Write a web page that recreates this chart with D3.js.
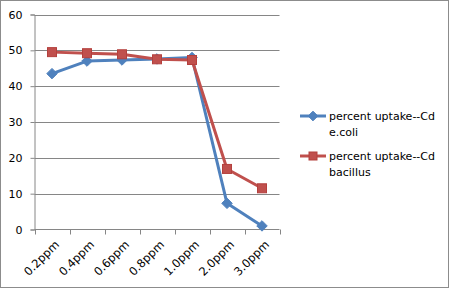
<!DOCTYPE html>
<html>
<head>
<meta charset="UTF-8">
<title></title>
<style>
  body { margin: 0; background: #fff; }
  text { font-family: "DejaVu Sans", Verdana, sans-serif; }
</style>
</head>
<body>
<div id="chart"></div>
<script src="https://d3js.org/d3.v7.min.js"></script>
<script>
// data
var categories = ["0.2ppm", "0.4ppm", "0.6ppm", "0.8ppm", "1.0ppm", "2.0ppm", "3.0ppm"];
var ecoli = [43.5, 47.0, 47.3, 47.6, 48.0, 7.3, 1.0];
var bacillus = [49.5, 49.2, 48.9, 47.5, 47.3, 16.9, 11.5];
var seriesNames = [["percent uptake--Cd", "e.coli"], ["percent uptake--Cd", "bacillus"]];
var yTicks = [0, 10, 20, 30, 40, 50, 60];

var width = 451, height = 289;
var plot = { left: 34.5, right: 279.5, top: 14.5, bottom: 229.5 };
var colors = ["#4F81BD", "#C0504D"];

var svg = d3.select("#chart").append("svg")
  .attr("width", width).attr("height", height);

// chart border
svg.append("rect")
  .attr("x", 0.5).attr("y", 0.5)
  .attr("width", 448).attr("height", 287)
  .attr("fill", "#fff").attr("stroke", "#8c8c8c");

var x = d3.scaleBand().domain(categories).range([plot.left, plot.right]);
var y = d3.scaleLinear().domain([0, 60]).range([plot.bottom, plot.top]);

// gridlines
svg.append("g").selectAll("line")
  .data(yTicks.filter(function(d) { return d > 0; }))
  .join("line")
  .attr("x1", plot.left).attr("x2", plot.right)
  .attr("y1", function(d) { return Math.round(y(d)) + 0.5; })
  .attr("y2", function(d) { return Math.round(y(d)) + 0.5; })
  .attr("stroke", "#868686");

// y axis
var yAxis = d3.axisLeft(y).tickValues(yTicks).tickSize(4).tickPadding(8);
var gy = svg.append("g").attr("transform", "translate(" + plot.left + ",0)").call(yAxis);
gy.select(".domain").attr("stroke", "#868686");
gy.selectAll(".tick line").attr("stroke", "#868686");
gy.selectAll("text").attr("font-size", "11px").attr("fill", "#000")
  .attr("font-family", "DejaVu Sans");

// x axis
var gx = svg.append("g").attr("transform", "translate(0," + plot.bottom + ")");
gx.append("line")
  .attr("x1", plot.left).attr("x2", plot.right)
  .attr("stroke", "#868686");
var edges = categories.map(function(c) { return x(c); }).concat([plot.right]);
gx.selectAll(".tk").data(edges).join("line")
  .attr("class", "tk")
  .attr("x1", function(d) { return Math.round(d) + 0.5; })
  .attr("x2", function(d) { return Math.round(d) + 0.5; })
  .attr("y1", 0).attr("y2", 5)
  .attr("stroke", "#868686");
gx.selectAll("text").data(categories).join("text")
  .attr("transform", function(d) {
    return "translate(" + (x(d) + x.bandwidth() / 2 + 5) + ",13) rotate(-45)";
  })
  .attr("text-anchor", "end")
  .attr("dy", "0.35em")
  .attr("font-size", "11.5px")
  .text(function(d) { return d; });

// lines
var line = d3.line()
  .x(function(d, i) { return x(categories[i]) + x.bandwidth() / 2; })
  .y(function(d) { return y(d); });

[ecoli, bacillus].forEach(function(vals, s) {
  svg.append("path")
    .datum(vals)
    .attr("d", line)
    .attr("fill", "none")
    .attr("stroke", colors[s])
    .attr("stroke-width", 3)
    .attr("stroke-linejoin", "round");
});

// markers
var diamond = d3.symbol().type(d3.symbolDiamond2).size(70);
svg.append("g").selectAll("path")
  .data(ecoli).join("path")
  .attr("transform", function(d, i) {
    return "translate(" + (x(categories[i]) + x.bandwidth() / 2) + "," + y(d) + ")";
  })
  .attr("d", diamond)
  .attr("fill", colors[0]).attr("stroke", colors[0]);

svg.append("g").selectAll("rect")
  .data(bacillus).join("rect")
  .attr("x", function(d, i) { return x(categories[i]) + x.bandwidth() / 2 - 4.5; })
  .attr("y", function(d) { return y(d) - 4.5; })
  .attr("width", 9).attr("height", 9)
  .attr("fill", "#C0504D").attr("stroke", "#B4403D").attr("stroke-width", 1);

// legend
var legendY = [116, 156];
seriesNames.forEach(function(name, s) {
  var g = svg.append("g").attr("transform", "translate(300," + legendY[s] + ")");
  g.append("line").attr("x1", 0).attr("x2", 26)
    .attr("stroke", colors[s]).attr("stroke-width", 3);
  if (s === 0) {
    g.append("path").attr("transform", "translate(13,0)")
      .attr("d", d3.symbol().type(d3.symbolDiamond2).size(60))
      .attr("fill", colors[0]).attr("stroke", colors[0]);
  } else {
    g.append("rect").attr("x", 9).attr("y", -4).attr("width", 8).attr("height", 8)
      .attr("fill", "#C0504D").attr("stroke", "#B4403D");
  }
  var t = g.append("text").attr("x", 29).attr("y", 4).attr("font-size", "11px");
  t.append("tspan").attr("x", 29).attr("dy", 0).text(name[0]);
  t.append("tspan").attr("x", 29).attr("dy", 16).text(name[1]);
});
</script>
</body>
</html>
